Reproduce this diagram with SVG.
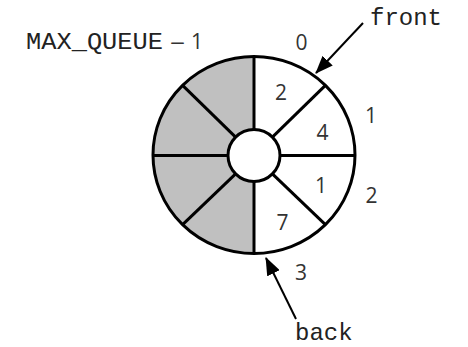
<svg xmlns="http://www.w3.org/2000/svg" width="468" height="347" viewBox="0 0 468 347">
<style>
.mono{font-family:"Liberation Mono","Courier New",monospace;font-size:24px;fill:#222}
.sans{font-family:"Open Sans","Noto Sans",sans-serif;font-size:21px;fill:#333}
.ln{stroke:#000;stroke-width:3;fill:none}
.arr{stroke:#000;stroke-width:2;fill:none}
</style>
<defs>
<marker id="ah" markerUnits="userSpaceOnUse" markerWidth="18" markerHeight="14" refX="17" refY="7" orient="auto" viewBox="0 0 18 14">
<path d="M0,0 L18,7 L0,14 Z" fill="#000"/>
</marker>
</defs>
<rect width="468" height="347" fill="#fff"/>
<g id="ring">
<path d="M254 56.5 A101 98.5 0 0 0 254 253.5 L254 181.5 A26 26 0 0 1 254 129.5 Z" fill="#c0c0c0"/>
<ellipse class="ln" cx="254" cy="155" rx="101" ry="98.5"/>
<circle cx="254" cy="155.5" r="26" fill="#fff" stroke="#000" stroke-width="3"/>
<g class="ln">
<line x1="254" y1="56.5" x2="254" y2="129.5"/>
<line x1="254" y1="181.5" x2="254" y2="253.5"/>
<line x1="153" y1="155.5" x2="228" y2="155.5"/>
<line x1="280" y1="155.5" x2="355" y2="155.5"/>
<line x1="272.4" y1="137.1" x2="325.4" y2="85.4"/>
<line x1="272.4" y1="173.9" x2="325.4" y2="224.6"/>
<line x1="235.6" y1="137.1" x2="182.6" y2="85.4"/>
<line x1="235.6" y1="173.9" x2="182.6" y2="224.6"/>
</g>
</g>
<g id="values" class="sans" text-anchor="middle">
<text x="281" y="100">2</text>
<text x="322.5" y="140">4</text>
<text x="321" y="193">1</text>
<text x="282.5" y="230">7</text>
</g>
<g id="indices" class="sans" text-anchor="middle">
<text x="301.5" y="50">0</text>
<text x="371" y="123">1</text>
<text x="371.5" y="203">2</text>
<text x="301" y="280">3</text>
</g>
<g id="max-label">
<text class="mono" x="26" y="49" textLength="137" lengthAdjust="spacingAndGlyphs">MAX_QUEUE</text>
<text class="sans" x="170" y="49" textLength="15" lengthAdjust="spacingAndGlyphs">–</text>
<text class="sans" x="191" y="49">1</text>
</g>
<g id="front-label"><text class="mono" x="370" y="25">front</text></g>
<g id="back-label"><text class="mono" x="295" y="340">back</text></g>
<g id="connectors">
<line class="arr" x1="363" y1="23" x2="316" y2="73" marker-end="url(#ah)"/>
<line class="arr" x1="296" y1="319" x2="266" y2="258" marker-end="url(#ah)"/>
</g>
</svg>
